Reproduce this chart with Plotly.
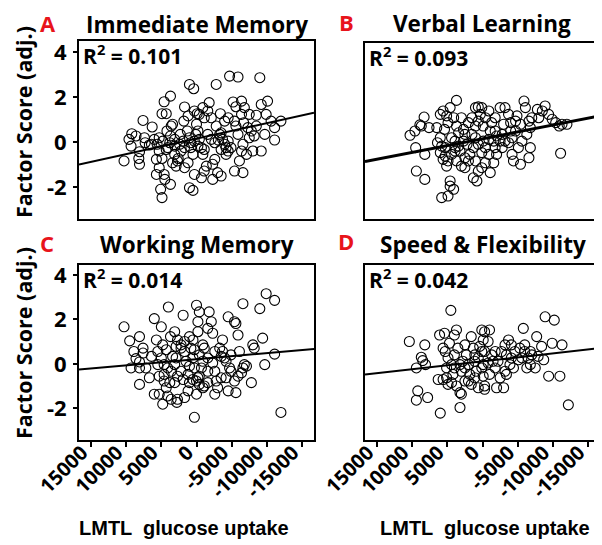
import plotly.graph_objects as go

# ---------------- data ----------------
panel_titles = ["Immediate Memory", "Verbal Learning", "Working Memory", "Speed & Flexibility"]
panel_letters = ["A", "B", "C", "D"]
r2_values = ["0.101", "0.093", "0.014", "0.042"]
# regression lines: y = intercept + slope * x
fit_intercepts = [0.15, 0.145, 0.21, 0.12]
fit_slopes = [-6.89e-5, -6.08e-5, -2.75e-5, -3.53e-5]

x_tick_vals = [15000, 10000, 5000, 0, -5000, -10000, -15000]
x_tick_text = ["15000", "10000", "5000", "0", "-5000", "-10000", "-15000"]
y_tick_vals = [-2, 0, 2, 4]
y_tick_text = ["-2", "0", "2", "4"]

a_x = [10300, 9600, 9200, 8600, 9300, 8100, 8200, 8100, 7600, 7300, 6700, 6300, 6000, 5600, 5300, 5700, 4900, 5700, 4600, 5100,
       4900, 4500, 3700, 4900, 4600, 3700, 4300, 3600, 4200, 3400, 3700, 3100, 3800, 4800, 5300, 4300, 3100, 2700, 3400, 2900,
       2600, 2200, 2400, 1900, 2300, 1700, 1800, 1200, 1300, 1000, 400, 1000, 800, 500, 1200, 1700, 1000, 500, 300, 300,
       -100, 0, 100, -400, -200, -700, -1100, -900, -1400, -1100, -700, -200, -1100, -1600, -1800, -900, -400, -2300, -2800, -2100,
       -2800, -3300, -3500, -3100, -3700, -4000, -4500, -4200, -3500, -2600, -2300, -3000, -3500, -4200, -3400, -4000, -4500, -4700, -5900, -5400,
       -5600, -6400, -5900, -6600, -6400, -7100, -6100, -5400, -6600, -6700, -7300, -7800, -8000, -5200, -5600, -6400, -6800, -7500, -8500, -9000,
       -8500, -9200, -9900, -10100, -10600, -11100, -11100, -12000, -7500, -8200, -4500, -4900, -1600, -2100, -2600, 300, 800, 1700, 3100, 4100,
       5300, 6400, 7400, -9200, -9700]
a_y = [-0.84, 0.12, 0.37, 0.27, -0.18, -0.43, -0.73, -0.99, 0.96, -0.03, -0.13, 0.67, 0.12, -0.10, -1.14, -1.44, -0.73, -0.77, -1.44, -2.10,
       -2.47, -1.66, -1.88, 1.26, 1.79, 2.04, 1.26, 0.71, 0.49, 0.79, 0.27, 0.12, -0.03, 0.04, 0.19, -0.33, -0.55, -0.84, -0.92, -1.07,
       -0.73, -0.40, -0.10, 0.04, 0.34, 1.56, 0.93, 1.16, 0.49, 2.56, 2.37, 0.19, -0.25, -0.55, -0.92, -1.14, -2.03, -2.15, -1.44, 1.38,
       1.26, 0.79, 0.34, 0.12, -0.18, -0.25, -0.33, -0.55, -1.07, -1.29, -1.59, 0.49, 1.08, 1.38, 1.75, 1.53, 1.23, -0.99, 2.56, 1.08,
       0.71, 0.34, 0.41, 0.09, 0.12, -0.10, -0.40, -0.55, -0.33, -0.77, -1.66, -1.36, -1.51, -0.25, 1.26, 0.93, 1.08, 2.93, 2.89, 0.93,
       0.71, 1.23, 0.34, -0.10, -0.40, -0.55, -0.84, -1.29, -1.36, 0.86, 0.64, 0.49, -0.40, 1.78, 1.57, 1.82, 1.53, 1.23, 1.19, 2.86,
       0.71, -0.40, 1.23, 1.82, 0.93, 0.64, 0.09, 0.93, 0.19, 0.27, 0.04, -0.25, 0.34, 0.12, -0.03, 0.04, -0.03, -0.25, -0.18, -0.25,
       -0.40, -0.10, 0.19, 1.67, 0.34]

b_x = [10300, 9600, 8900, 8300, 8700, 9500, 8200, 9400, 8200, 7600, 6500, 6000, 5600, 5100, 4600, 3700, 4100, 4900, 5400, 6000,
       6400, 5800, 5300, 5600, 4900, 4400, 5100, 4600, 4100, 4600, 5800, 4900, 3700, 3000, 3400, 2700, 3900, 3200, 3700, 3000,
       2500, 2000, 2700, 2000, 1500, 1000, 600, 100, 300, 1000, 600, -100, -400, -900, -1300, -1800, -2500, -3200, -3700, -4700,
       -4900, -4000, -2800, -2000, -1600, -900, -100, 600, 1300, 1800, 1000, 600, 1300, 800, 100, -400, -900, -1100, -1600, -2000,
       -2500, -3200, -3700, -4200, -4700, -5400, -5900, -6100, -6600, -7000, -7800, -8500, -8900, -9400, -9900, -10400, -10900, -11300, -12000, -8000,
       -6800, -6300, -5600, -5100, -4200, -4400, -5400, -6600, -6800, -11100, 2500, 2200, 3900, 4400, 3400, 100, -400, -1800, -2800, 1500,
       1000, 3900, 2500, -1100, -1800, -3000, -4000, 6000, 5300]
b_y = [0.30, 0.49, 0.76, 1.11, 0.71, -0.25, -0.55, -1.29, -1.66, 0.64, 0.64, 1.23, 1.38, 1.16, 1.53, 1.85, 1.08, 0.86, 0.56, 0.19,
       -0.03, -0.18, -0.25, -0.77, -0.84, -0.55, -1.07, -1.73, -2.10, -1.96, -2.47, -2.40, 0.71, 1.08, 0.41, 0.04, 0.04, -0.40, -0.84, -1.07,
       -1.14, -0.84, 0.56, 0.86, 1.08, 1.53, 1.56, 1.53, 1.23, 0.71, 0.93, 0.71, 1.08, 1.38, 0.86, 1.08, 1.53, 1.53, 1.23, 0.93,
       1.16, 0.49, 0.34, 0.27, 0.04, 0.12, 0.04, -0.10, -0.25, -0.55, -0.84, -1.29, -1.59, -1.73, -1.14, -0.92, -0.55, -1.36, -0.92, -0.55,
       0.04, 0.04, -0.03, 0.19, 0.49, 0.79, 1.82, 1.53, 0.93, 1.08, 1.45, 1.38, 1.60, 1.23, 1.01, 0.86, 0.71, 0.79, 0.79, 1.08,
       0.64, 0.34, 0.04, -0.25, -0.55, -0.84, -0.99, -0.70, -0.25, -0.50, 0.34, -0.10, -0.40, 0.19, -0.18, -0.47, -0.25, -0.25, -0.25, 0.34,
       0.19, -0.25, -0.70, 0.49, 0.49, 0.79, 0.86, -0.47, -0.62]

c_x = [10300, 9500, 9300, 8900, 8100, 8100, 8100, 8100, 8600, 7600, 7200, 6000, 5700, 5000, 5000, 5300, 6000, 5300, 4800, 4600,
       4800, 4300, 4000, 3700, 3400, 4100, 3600, 3800, 4300, 4100, 3600, 2700, 2800, 3100, 2700, 3100, 2900, 2900, 2200, 1900,
       1700, 1500, 1200, 1000, 1000, 500, 1000, 500, 300, 0, -200, -400, -200, 0, -200, -400, -700, -900, -400, -1100,
       -1600, -1600, -1600, -1100, -900, -1800, -2100, -2300, -2300, -2800, -3000, -3500, -3500, -3700, -3300, -3700, -4500, -4900, -4700, -4900,
       -4200, -5400, -5600, -5900, -6400, -6600, -6800, -7100, -5600, -5400, -5900, -6600, -6100, -7800, -8000, -9000, -9400, -9900, -11100, -11100,
       -9700, -12000, 3100, 2700, 2200, 1700, 800, 300, -900, -2600, -4200, 300, 2200, 5500, 6400, 5500, 4600, 1200, -1600, -2600,
       -4000, 500, 0, -400, 1900, 6700, 7600, -8200, -4500, 4600, -2600, 1700]
c_y = [1.67, 1.04, -0.18, 0.56, 1.23, 0.09, -0.18, -0.92, 0.24, 0.71, -0.18, 2.04, 1.08, 1.67, 0.27, -0.55, -1.36, -1.36, -1.81, -0.47,
       0.86, 0.64, 2.56, 1.23, 0.34, -0.18, -0.33, -0.84, -1.07, -1.44, -1.59, -1.59, -1.73, -0.84, -0.55, -0.03, 0.27, 0.79, 0.86, 2.19,
       1.01, 0.12, -1.21, -0.84, -0.10, 0.27, 1.23, 1.08, -2.40, 2.64, 1.90, 2.34, 1.45, -1.36, -0.62, -0.55, -0.18, 0.12, 0.41, 0.71,
       0.27, 1.60, -0.84, -0.99, -1.07, 2.34, 1.90, 1.38, 0.04, -0.77, -1.07, -0.62, 0.34, 1.08, 0.71, 0.56, 2.12, 0.41, -0.18, -0.33,
       -0.62, -0.77, -1.29, -0.55, -0.40, -0.18, -0.03, -0.10, 1.82, 1.90, 1.30, 2.71, 0.56, -0.84, 0.86, 2.49, 1.16, 3.16, 2.86, 0.44,
       -0.03, -2.18, 1.45, 1.08, 0.71, 0.56, 0.71, 0.64, 0.86, 0.56, 0.12, -0.18, -0.33, 0.56, 0.34, -0.03, -0.03, -0.47, -0.33, -0.33,
       0.27, -0.70, -0.77, -0.92, -0.70, -0.62, 0.49, 0.71, -1.21, -0.77, -1.36, -1.51]

d_x = [10400, 9400, 9400, 9200, 8700, 8500, 8200, 8100, 7800, 6300, 6100, 6000, 5600, 5400, 5300, 5100, 4900, 4700, 4500, 4900,
       4400, 4000, 3700, 4000, 4000, 3700, 3200, 3200, 3000, 2800, 2500, 2300, 2000, 1800, 1600, 1300, 1600, 1100, 900, 600,
       400, 100, -300, -1000, -100, 100, 100, -100, -300, -300, -800, -1300, -1000, -1800, -2000, -2500, -3000, -3200, -3400, -3700,
       -3400, -3900, -4100, -4600, -5100, -5600, -5800, -6000, -6300, -6500, -6800, -7500, -7700, -7900, -8400, -8700, -8900, -9400, -9900, -10200,
       -11000, -11300, -12200, 5600, 5100, 4400, 3500, 3000, 2500, 1100, 600, -300, -1800, -2200, -2700, -4400, -5300, -7000, -800, -3200,
       2500, 1100, 2000, 3200, 4200, -100, -1500, -4100, -6800, -6000]
d_y = [1.01, -0.18, -1.63, -1.21, 0.30, 0.15, 0.86, -0.03, -1.51, -0.70, 1.30, -2.21, 0.71, 1.38, 0.56, -0.62, 0.27, 0.93, 2.41, -0.92,
       -0.84, 1.30, 1.53, 0.41, -0.18, -0.99, -1.29, -1.96, -1.36, 0.12, -0.18, 0.41, -0.03, -0.47, 1.23, 0.71, -0.92, -0.62, -0.33, 0.27,
       0.79, 1.53, 1.45, 1.53, 1.08, 0.56, -0.18, -0.55, -0.99, -1.14, 0.04, 0.41, -0.47, 0.56, -1.07, -0.62, -1.07, -0.33, 0.41, 1.08,
       -0.47, -0.03, 0.27, 0.56, 0.19, 0.27, 1.60, 0.56, -0.18, 0.27, -0.03, -0.18, 1.23, 0.34, 0.79, 0.19, 2.12, -0.55, 0.93, 1.97,
       -0.55, 0.86, -1.84, -0.70, -0.18, -0.03, 0.71, -0.33, -0.77, 0.12, -1.07, 0.56, -0.18, 0.12, 0.56, -0.18, 0.71, 0.41, 1.01, 0.86,
       0.86, 0.41, -0.77, -0.03, -0.47, -0.03, 0.12, 0.86, 0.56, 0.86]

xs = [a_x, b_x, c_x, d_x]
ys = [a_y, b_y, c_y, d_y]

# ---------------- layout geometry (pixels) ----------------
W, H = 602, 545
# (left, right, top, bottom) in px
boxes = [(71, 306, 33, 211), (357, 592, 35, 211), (71, 306, 257, 432), (357, 592, 257, 432)]
y_ranges = [[-3.42, 4.49], [-3.42, 4.40], [-3.42, 4.45], [-3.42, 4.45]]
x_range = [16700, -16700]
line_widths = [2, 3, 2, 2]

FONT = "Open Sans"

def px(x):
    return x / W

def py(y):
    return 1 - y / H

fig = go.Figure()

for i in range(4):
    xa = "x" if i == 0 else f"x{i+1}"
    ya = "y" if i == 0 else f"y{i+1}"
    fig.add_trace(go.Scatter(
        x=xs[i], y=ys[i], mode="markers", xaxis=xa, yaxis=ya,
        marker=dict(symbol="circle-open", size=10, color="black", line=dict(width=1.1, color="black")),
        showlegend=False, hoverinfo="skip",
    ))
    lx = list(x_range)
    ly = [fit_intercepts[i] + fit_slopes[i] * v for v in lx]
    fig.add_trace(go.Scatter(
        x=lx, y=ly, mode="lines", xaxis=xa, yaxis=ya,
        line=dict(color="black", width=line_widths[i]), showlegend=False, hoverinfo="skip",
    ))

layout = dict(
    width=W, height=H, margin=dict(l=0, r=0, t=0, b=0, autoexpand=False),
    paper_bgcolor="white", plot_bgcolor="white", showlegend=False,
    font=dict(family=FONT, color="black"),
)

for i in range(4):
    l, r, t, b = boxes[i]
    xk = "xaxis" if i == 0 else f"xaxis{i+1}"
    yk = "yaxis" if i == 0 else f"yaxis{i+1}"
    ya_name = "y" if i == 0 else f"y{i+1}"
    xa_name = "x" if i == 0 else f"x{i+1}"
    bottom_row = i >= 2
    left_col = i % 2 == 0
    layout[xk] = dict(
        domain=[px(l), px(r)], anchor=ya_name, range=x_range, autorange=False, automargin=False,
        showgrid=False, zeroline=False, showline=True, mirror=True, linecolor="black", linewidth=2,
        ticks="outside" if bottom_row else "", ticklen=5, tickwidth=2, tickcolor="black",
        tickvals=x_tick_vals, ticktext=x_tick_text if bottom_row else [""] * len(x_tick_vals),
        showticklabels=bottom_row, tickangle=-45,
        ticklabelshift=9, ticklabelstandoff=-14,
        tickfont=dict(family=FONT, size=20, color="black", weight="bold"),
    )
    layout[yk] = dict(
        domain=[py(b), py(t)], anchor=xa_name, range=y_ranges[i], autorange=False, automargin=False,
        showgrid=False, zeroline=False, showline=True, mirror=True, linecolor="black", linewidth=2,
        ticks="outside" if left_col else "", ticklen=4, tickwidth=2, tickcolor="black",
        tickvals=y_tick_vals, ticktext=y_tick_text,
        showticklabels=left_col, ticklabelstandoff=2,
        tickfont=dict(family=FONT, size=22, color="black", weight="bold"),
    )

fig.update_layout(**layout)

annotations = []
title_pos = [(189, 16), (474, 15), (189, 236), (475, 236)]
letter_pos = [(40, 15), (338, 14), (39, 235), (338, 233)]
for i in range(4):
    l, r, t, b = boxes[i]
    annotations.append(dict(
        x=px(title_pos[i][0]), y=py(title_pos[i][1]), xref="paper", yref="paper",
        text=f"<b>{panel_titles[i]}</b>", showarrow=False, xanchor="center", yanchor="middle",
        font=dict(family=FONT, size=22.5, color="black"),
    ))
    annotations.append(dict(
        x=px(letter_pos[i][0]), y=py(letter_pos[i][1]), xref="paper", yref="paper",
        text=f"<b>{panel_letters[i]}</b>", showarrow=False, xanchor="center", yanchor="middle",
        font=dict(family=FONT, size=22, color="#e8141b"),
    ))
    annotations.append(dict(
        x=px(l + 2), y=py(t + 13), xref="paper", yref="paper",
        text=f"<b>R<sup>2</sup> = {r2_values[i]}</b>", showarrow=False, xanchor="left", yanchor="middle",
        font=dict(family=FONT, size=21, color="black"),
    ))

for yc in (114, 335):
    annotations.append(dict(
        x=px(15), y=py(yc), xref="paper", yref="paper", textangle=-90,
        text="<b>Factor Score (adj.)</b>", showarrow=False, xanchor="center", yanchor="middle",
        font=dict(family=FONT, size=21.5, color="black"),
    ))
for xc in (176, 477):
    annotations.append(dict(
        x=px(xc), y=py(520), xref="paper", yref="paper",
        text="<b>LMTL  glucose uptake</b>", showarrow=False, xanchor="center", yanchor="middle",
        font=dict(family="Liberation Sans, Arial", size=20, color="black"),
    ))

fig.update_layout(annotations=annotations)
fig.write_html("out.html")
